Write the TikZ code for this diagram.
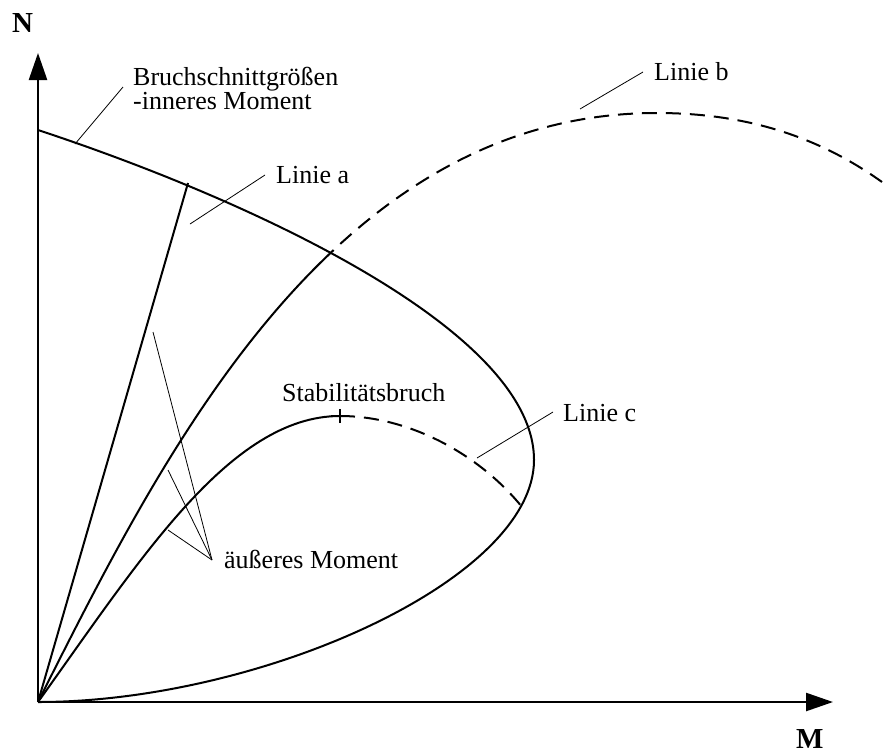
\documentclass[tikz,border=0pt]{standalone}
\usepackage{fontspec}
\setmainfont{Liberation Serif}
\usetikzlibrary{arrows.meta}
\begin{document}
\begin{tikzpicture}[x=1pt,y=-1pt,
  axis/.style={line width=2.4pt,-{Triangle[length=27pt,width=18pt]}},
  curve/.style={line width=2pt},
  dashcurve/.style={line width=2pt,dash pattern=on 15pt off 9pt},
  leader/.style={line width=0.8pt},
  lbl/.style={anchor=base west,inner sep=0pt,font=\fontsize{26}{23}\selectfont},
  axlbl/.style={anchor=base west,inner sep=0pt,font=\fontsize{29}{30}\selectfont\bfseries}]
\useasboundingbox (0,0) rectangle (885,753);
% axes
\coordinate (O) at (38,702);
\coordinate (Ytip) at (38,53);
\coordinate (Xtip) at (833,702);
\draw[axis] (O) -- (Ytip);
\draw[axis] (O) -- (Xtip);
\node[axlbl] (N) at (12,32) {N};
\node[axlbl] (M) at (796,748) {M};
% interaction curve (Bruchschnittgroessen)
\coordinate (I0) at (38,130);
\coordinate (Ir) at (534,460);
\draw[curve] (I0) .. controls (250,200) and (534,330) .. (Ir)
  .. controls (534,580) and (260,702) .. (O);
% Linie a
\coordinate (Atop) at (188,183);
\draw[curve] (O) -- (Atop);
% Linie b
\coordinate (Bpeak) at (657,113);
\coordinate (Bend) at (882,182);
\begin{scope}
  \clip (0,0) rectangle (331,753);
  \draw[curve] (O) .. controls (160,460) and (330,113) .. (Bpeak)
    .. controls (760,113) and (830,145) .. (Bend);
\end{scope}
\begin{scope}
  \clip (331,0) rectangle (885,753);
  \draw[dashcurve] (O) .. controls (160,460) and (330,113) .. (Bpeak)
    .. controls (760,113) and (830,145) .. (Bend);
\end{scope}
% Linie c
\coordinate (S) at (340,416);
\coordinate (Cend) at (522,507);
\draw[curve] (O) .. controls (140,560) and (230,416) .. (S);
\draw[dashcurve] (S) .. controls (410,416) and (480,455) .. (Cend);
\draw[line width=1.6pt] ([xshift=-9pt]S) -- ([xshift=9pt]S);
\draw[line width=1.6pt] ([yshift=-7pt]S) -- ([yshift=7pt]S);
% labels
\node[lbl] (tB1) at (133,85) {Bruchschnittgrößen};
\node[lbl] (tB2) at (133,109) {-inneres Moment};
\node[lbl] (tA) at (276,183) {Linie a};
\node[lbl] (tLb) at (654,80) {Linie b};
\node[lbl] (tLc) at (563,421) {Linie c};
\node[lbl] (tS) at (282,401) {Stabilitätsbruch};
\node[lbl] (tM) at (224,568) {äußeres Moment};
% leaders
\coordinate (lB1) at (123,87);  \coordinate (lB2) at (75,144);
\draw[leader] (lB1) -- (lB2);
\coordinate (la1) at (265,175); \coordinate (la2) at (190,224);
\draw[leader] (la1) -- (la2);
\coordinate (lb1) at (643,72);  \coordinate (lb2) at (580,109);
\draw[leader] (lb1) -- (lb2);
\coordinate (lc1) at (553,412); \coordinate (lc2) at (477,458);
\draw[leader] (lc1) -- (lc2);
\coordinate (P) at (212,560);
\coordinate (m1) at (153,332);
\coordinate (m2) at (168,470);
\coordinate (m3) at (168,530);
\draw[leader] (P) -- (m1);
\draw[leader] (P) -- (m2);
\draw[leader] (P) -- (m3);
\end{tikzpicture}
\end{document}
